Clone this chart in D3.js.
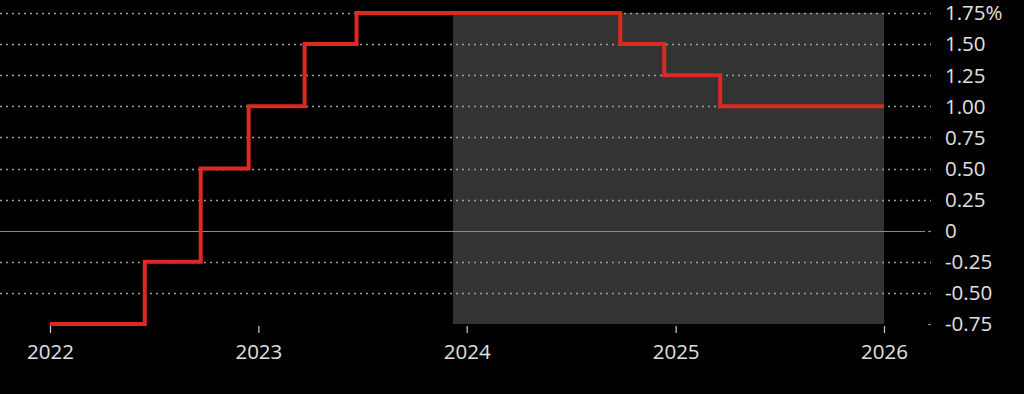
<!DOCTYPE html>
<html><head><meta charset="utf-8">
<script src="https://cdn.jsdelivr.net/npm/d3@7"></script>
<style>html,body{margin:0;padding:0;background:#000;}svg{display:block;}</style>
</head><body>
<svg id="c" width="1024" height="394"></svg>
<script>
// Policy rate steps (date of change, new rate %)
const stepDates = ["2022-01-01","2022-06-16","2022-09-22","2022-12-15","2023-03-23","2023-06-22","2024-09-26","2024-12-12","2025-03-20","2026-01-01"];
const stepRates = [-0.75,-0.25,0.5,1.0,1.5,1.75,1.5,1.25,1.0,1.0];
const shadeRange = ["2023-12-08","2026-01-01"];
const yTicks = [-0.75,-0.5,-0.25,0,0.25,0.5,0.75,1.0,1.25,1.5,1.75];
const yTickLabels = ["-0.75","-0.50","-0.25","0","0.25","0.50","0.75","1.00","1.25","1.50","1.75%"];
const xTickYears = ["2022","2023","2024","2025","2026"];

const parse = d3.timeParse("%Y-%m-%d");
const data = stepDates.map((d,i)=>({date:parse(d), v:stepRates[i]}));

const svg = d3.select("#c");
const x = d3.scaleTime().domain([parse("2022-01-01"), parse("2026-01-01")]).range([50, 884]);
const y = d3.scaleLinear().domain([-0.75, 1.75]).range([324, 13]);
const font = "'Open Sans', 'Noto Sans', sans-serif";

// shaded forecast area
svg.append("rect")
  .attr("x", x(parse(shadeRange[0])))
  .attr("y", y(1.75))
  .attr("width", x(parse(shadeRange[1])) - x(parse(shadeRange[0])))
  .attr("height", y(-0.75) - y(1.75))
  .attr("fill", "#333333");

// gridlines
svg.append("g").selectAll("line").data(yTicks.filter(t => t !== -0.75 && t !== 0)).join("line")
  .attr("x1", 0).attr("x2", 931)
  .attr("y1", d => Math.round(y(d)) + 0.5).attr("y2", d => Math.round(y(d)) + 0.5)
  .attr("stroke", "#a0a0a0").attr("stroke-width", 1.4)
  .attr("stroke-dasharray", "2,4");
// zero line
svg.append("line")
  .attr("x1", 0).attr("x2", 925)
  .attr("y1", Math.round(y(0)) + 0.5).attr("y2", Math.round(y(0)) + 0.5)
  .attr("stroke", "#8a8a8a").attr("stroke-width", 1.2);
svg.append("line")
  .attr("x1", 928).attr("x2", 931)
  .attr("y1", Math.round(y(0)) + 0.5).attr("y2", Math.round(y(0)) + 0.5)
  .attr("stroke", "#8a8a8a").attr("stroke-width", 1.2);
svg.append("line")
  .attr("x1", 928).attr("x2", 931)
  .attr("y1", Math.round(y(-0.75)) + 0.5).attr("y2", Math.round(y(-0.75)) + 0.5)
  .attr("stroke", "#8a8a8a").attr("stroke-width", 1.2);

// y labels
svg.append("g").selectAll("text").data(yTicks).join("text")
  .attr("x", 945).attr("y", d => y(d))
  .attr("dy", "0.36em")
  .attr("fill", "#e0e0e0")
  .attr("font-family", font).attr("font-size", 20.5)
  .text((d,i) => yTickLabels[i]);

// x axis
const xAxis = d3.axisBottom(x)
  .tickValues(xTickYears.map(yv => parse(yv + "-01-01")))
  .tickFormat(d3.timeFormat("%Y"))
  .tickSize(7).tickPadding(11);
const gx = svg.append("g").attr("transform", "translate(0,326)").call(xAxis);
gx.select(".domain").remove();
gx.selectAll(".tick line").attr("stroke", "#cccccc").attr("stroke-width", 1.2);
gx.selectAll(".tick text").attr("fill", "#e0e0e0").attr("font-family", font).attr("font-size", 20.5);

// step line
const line = d3.line().x(d => x(d.date)).y(d => y(d.v)).curve(d3.curveStepAfter);
svg.append("path").datum(data)
  .attr("d", line)
  .attr("fill", "none")
  .attr("stroke", "#dc2a22")
  .attr("stroke-width", 4)
  .attr("stroke-linejoin", "miter");
</script>
</body></html>
